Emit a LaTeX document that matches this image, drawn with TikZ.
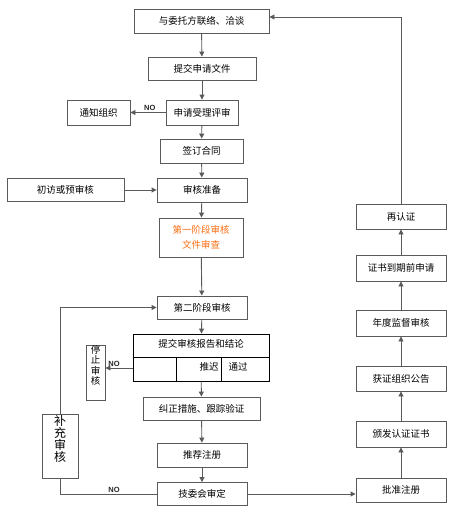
\documentclass[tikz,border=0pt]{standalone}
\usepackage{fontspec}
\setmainfont{Liberation Sans}
\newfontfamily\cjk{Noto Sans CJK SC}
\usepackage{xcolor}
\usepackage{tikz}
\usetikzlibrary{arrows.meta,positioning,calc}
\definecolor{lnclr}{RGB}{90,90,90}
\definecolor{stageorange}{RGB}{250,110,20}
\tikzstyle{fbox}   = [rectangle, draw=lnclr, line width=0.9pt, align=center,
                      inner sep=0pt, font=\cjk\fontsize{9.5}{15}\selectfont]
\tikzstyle{vbox}   = [rectangle, draw=lnclr, line width=0.9pt, inner sep=0pt]
\tikzstyle{farrow} = [-{Triangle[length=5pt,width=5pt]}, draw=lnclr, line width=0.9pt]
\tikzstyle{fline}  = [draw=lnclr, line width=0.9pt]
\tikzstyle{nolbl}  = [font=\bfseries\fontsize{7.5}{8}\selectfont, text=black!85, inner sep=1pt]

\begin{document}
\begin{tikzpicture}[x=1pt, y=-1pt]
\useasboundingbox (0,0) rectangle (454,515);
% Application
\node[fbox, minimum width=135pt, minimum height=24pt] (contact) at (201.5,21) {与委托方联络、洽谈};
\node[fbox, minimum width=108pt, minimum height=23pt] (submit) at (202,68.5) {提交申请文件};
\node[fbox, minimum width=72pt, minimum height=25pt] (accept) at (202,112.5) {申请受理评审};
\node[fbox, minimum width=63pt, minimum height=25pt] (notify) at (98.5,112.5) {通知组织};
\node[fbox, minimum width=83pt, minimum height=24pt] (contract) at (201.5,151) {签订合同};
% Preparation and stage 1
\node[fbox, minimum width=90pt, minimum height=24pt] (prep) at (202,190) {审核准备};
\node[fbox, minimum width=117pt, minimum height=23pt] (previsit) at (65.5,190) {初访或预审核};
\node[fbox, minimum width=84pt, minimum height=39pt, text=stageorange] (stage1)
  at (201,237.5) {第一阶段审核\\文件审查};
% Stage 2 and report
\node[fbox, minimum width=90pt, minimum height=23pt] (stage2) at (202,307.5) {第二阶段审核};
\node[fbox, draw=black, minimum width=136pt, minimum height=47pt] (report) at (201,357.5) {};
\node[fbox, draw=none] (reporttxt) at (201,344) {提交审核报告和结论};
\node[fbox, draw=none, anchor=east] (delay) at (219,367) {推迟};
\node[fbox, draw=none] (pass) at (238,367) {通过};
\draw[black, line width=0.9pt] (report.west) -- (report.east);
\draw[black, line width=0.9pt] (176,357.5) -- (176,381);
\draw[black, line width=0.9pt] (221,357.5) -- (221,381);
\node[vbox, minimum width=19pt, minimum height=55pt,
  label={[anchor=north, align=center, inner sep=0pt, yshift=-1pt,
  font=\cjk\fontsize{9.5}{10.2}\selectfont]north:停\\止\\审\\核}] (stop) at (95.5,372.5) {};
% Follow-up
\node[fbox, minimum width=117pt, minimum height=23pt] (correct) at (201.5,408.5) {纠正措施、跟踪验证};
\node[fbox, minimum width=90pt, minimum height=24pt] (recommend) at (202,455) {推荐注册};
\node[fbox, minimum width=90pt, minimum height=23pt] (committee) at (202,494) {技委会审定};
\node[vbox, minimum width=36pt, minimum height=64pt,
  label={[anchor=north, align=center, inner sep=0pt, yshift=-2pt,
  font=\cjk\fontsize{12}{12}\selectfont]north:补\\充\\审\\核}] (supplement) at (60,446) {};
% Certification
\node[fbox, minimum width=90pt, minimum height=24pt] (approve) at (401,490) {批准注册};
\node[fbox, minimum width=90pt, minimum height=26pt] (issue) at (401,434) {颁发认证证书};
\node[fbox, minimum width=90pt, minimum height=25pt] (announce) at (401,378.5) {获证组织公告};
\node[fbox, minimum width=90pt, minimum height=26pt] (annual) at (401,323) {年度监督审核};
\node[fbox, minimum width=90pt, minimum height=26pt] (expire) at (401,268) {证书到期前申请};
\node[fbox, minimum width=90pt, minimum height=25pt] (recert) at (401,216.5) {再认证};
% Arrows
\draw[farrow] (contact) -- (submit);
\draw[farrow] (submit) -- (accept);
\draw[farrow] (accept) -- node[nolbl, above, pos=0.45] {NO} (notify);
\draw[farrow] (accept) -- (contract);
\draw[farrow] (contract) -- (prep);
\draw[farrow] (previsit) -- (prep);
\draw[farrow] (prep) -- (stage1);
\draw[farrow] (stage1) -- (stage2);
\draw[farrow] (stage2) -- (report);
\coordinate (stopfrom) at ([yshift=-10.5pt]report.west);
\draw[farrow] (stopfrom) -- node[nolbl, above, pos=0.68] {NO} (stopfrom -| stop.east);
\draw[farrow] (report) -- (correct);
\draw[farrow] (correct) -- (recommend);
\draw[farrow] (recommend) -- (committee);
\draw[fline] (committee.west) -| node[nolbl, above, pos=0.22] {NO} (supplement.south);
\draw[farrow] (supplement.north) |- (stage2.west);
\draw[farrow] (committee.east) -- (committee.east -| approve.west);
\draw[farrow] (approve) -- (issue);
\draw[farrow] (issue) -- (announce);
\draw[farrow] (announce) -- (annual);
\draw[farrow] (annual) -- (expire);
\draw[farrow] (expire) -- (recert);
\draw[farrow] (recert.north) |- ([yshift=4pt]contact.east);
\end{tikzpicture}
\end{document}
